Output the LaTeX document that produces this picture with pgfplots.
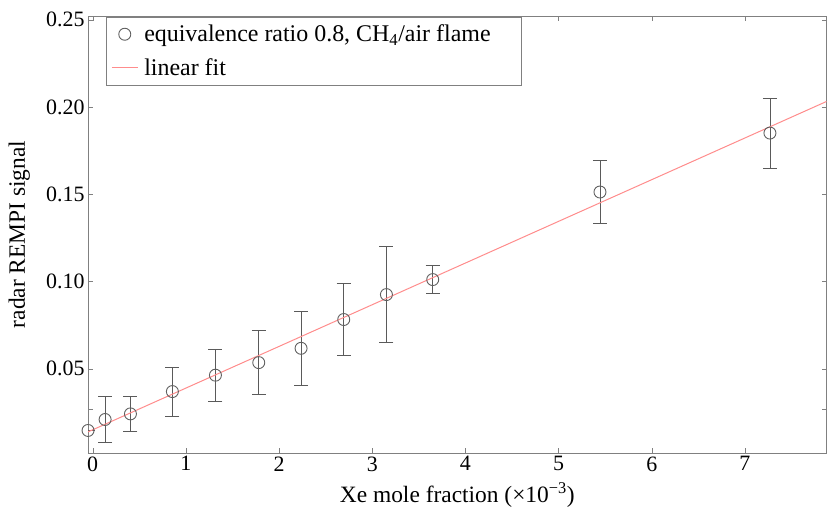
\documentclass[border=0pt]{standalone}
\usepackage{pgfplots}
\pgfplotsset{compat=1.18}
\usepackage{fontspec}
\setmainfont{Liberation Serif}
\definecolor{axgray}{HTML}{808080}
\definecolor{errgray}{HTML}{5A5A5A}
\definecolor{mkgray}{HTML}{606060}
\definecolor{fitred}{HTML}{FF8C8C}
\newcommand{\tickf}{\fontsize{22}{26}\selectfont}
\newcommand{\labf}{\fontsize{23.5}{28}\selectfont}
\newcommand{\legf}{\fontsize{24}{28}\selectfont}
\begin{document}
\begin{tikzpicture}
\begin{axis}[
  scale only axis,
  width=738bp, height=436.7bp,
  xmin=-0.05, xmax=7.875,
  ymin=0.0017, ymax=0.2522,
  xtick={0,1,2,3,4,5,6,7},
  ytick={0.05,0.10,0.15,0.20,0.25},
  extra y ticks={0.027}, extra y tick labels={},
  tick align=inside,
  major tick length=5bp,
  axis line style={axgray},
  every tick/.style={axgray},
  /pgf/number format/assume math mode=true,
  yticklabel style={/pgf/number format/.cd, fixed, fixed zerofill, precision=2},
  ticklabel style={font=\tickf, text=black},
  xlabel={Xe mole fraction (×10\textsuperscript{−3})},
  ylabel={radar REMPI signal},
  label style={font=\labf},
  xlabel style={at={(axis description cs:0.5,-0.096)}, anchor=center},
  ylabel style={at={(axis description cs:-0.093,0.5)}, anchor=center},
  legend style={at={(axis description cs:0.0244,0.998)}, anchor=north west,
    draw=axgray, font=\legf, inner xsep=5bp, inner ysep=6bp, row sep=11bp,
    cells={anchor=west}, column sep=4bp},
  legend cell align=left,
  legend image code/.code={\draw[mark repeat=2,mark phase=2,#1] plot coordinates {(0bp,0bp) (13bp,0bp) (26bp,0bp)};},
]
\addplot[only marks, mark=o, mark size=6bp, mkgray, mark options={line width=0.9bp},
  error bars/.cd, y dir=both, y explicit,
  error bar style={errgray, line width=0.8bp},
  error mark options={errgray, rotate=90, mark size=7bp, line width=0.8bp}]
  coordinates {
  (-0.05,0.0146) +- (0,0)
  (0.133,0.0209) +- (0,0.013)
  (0.405,0.0241) +- (0,0.0100)
  (0.855,0.0369) +- (0,0.0140)
  (1.317,0.0463) +- (0,0.0149)
  (1.782,0.0535) +- (0,0.0185)
  (2.236,0.0617) +- (0,0.0212)
  (2.694,0.0782) +- (0,0.0206)
  (3.152,0.0925) +- (0,0.0276)
  (3.649,0.1011) +- (0,0.0082)
  (5.444,0.1513) +- (0,0.0179)
  (7.268,0.1851) +- (0,0.0200)
  };
\addlegendentry{equivalence ratio 0.8, CH\textsubscript{4}/air flame\hspace*{24bp}}
\addplot[fitred, line width=1bp] coordinates {(-0.05,0.0138) (7.875,0.2032)};
\addlegendentry{linear fit}
\end{axis}
\pgfresetboundingbox
\path[use as bounding box] ([xshift=-88bp,yshift=-59bp]current axis.south west) rectangle ([xshift=0.5bp,yshift=16bp]current axis.north east);
\end{tikzpicture}
\end{document}
